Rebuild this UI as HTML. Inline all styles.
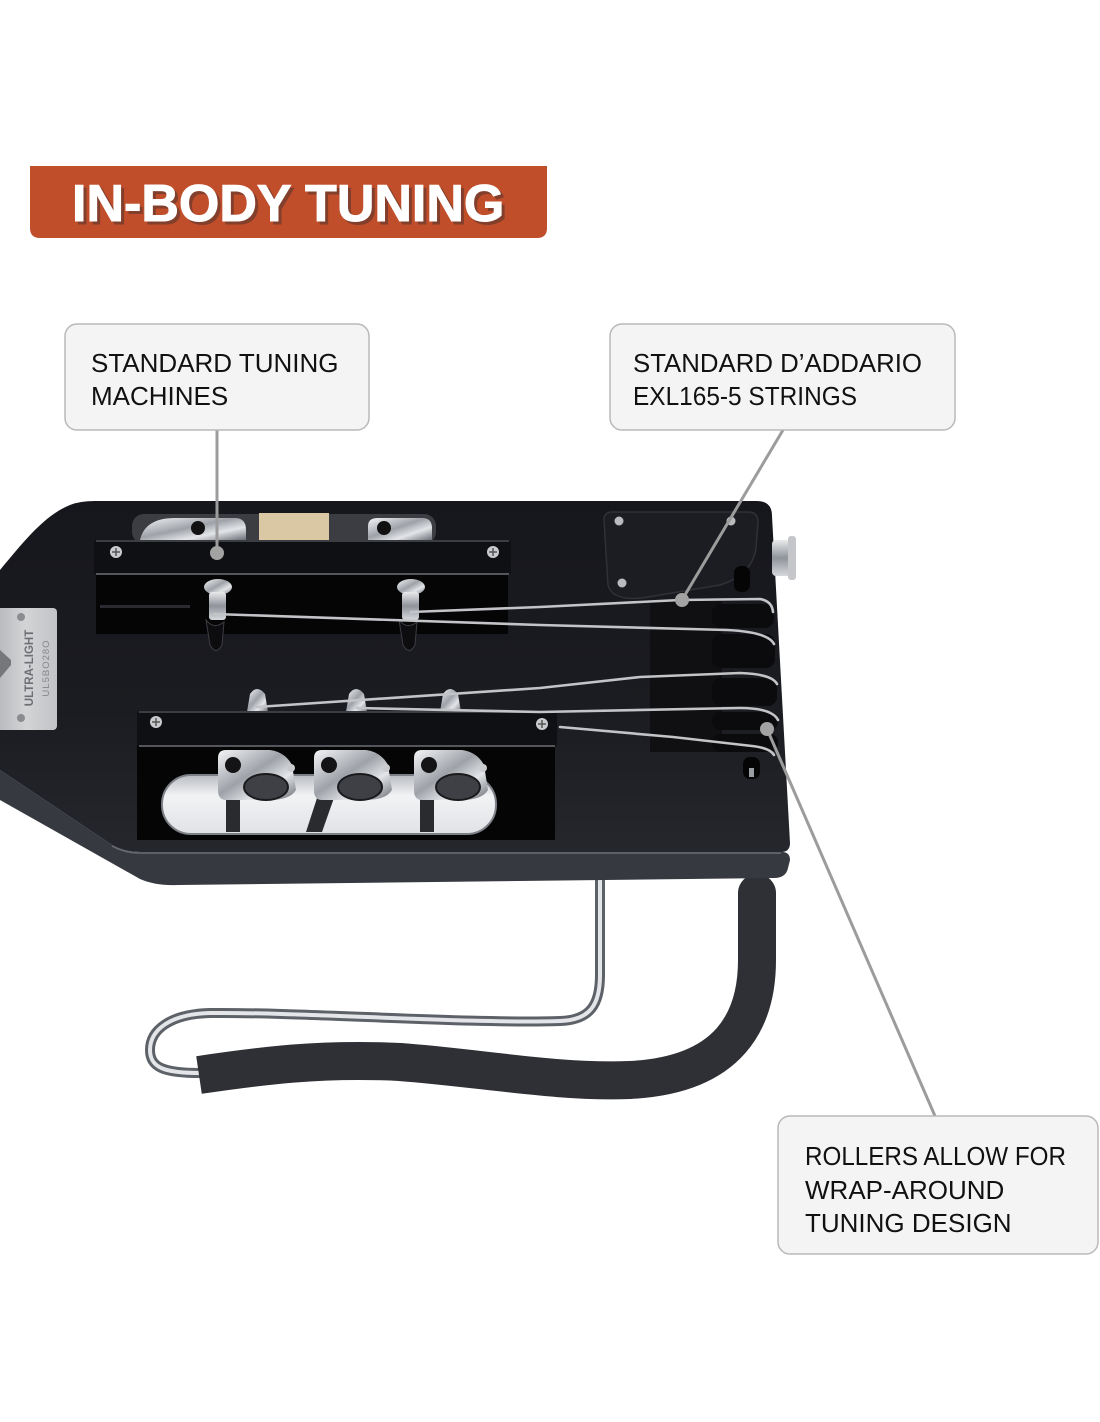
<!DOCTYPE html>
<html><head><meta charset="utf-8"><style>
html,body{margin:0;padding:0;background:#fff;}
body{width:1100px;height:1422px;overflow:hidden;position:relative;font-family:"Liberation Sans",sans-serif;}
svg{position:absolute;left:0;top:0;}
</style></head><body>
<svg width="1100" height="1422" viewBox="0 0 1100 1422" xmlns="http://www.w3.org/2000/svg">
<defs>
 <linearGradient id="bodyg" x1="0" y1="0" x2="0" y2="1">
  <stop offset="0" stop-color="#16171c"/>
  <stop offset="0.6" stop-color="#1b1c21"/>
  <stop offset="1" stop-color="#25272d"/>
 </linearGradient>
 <linearGradient id="chrome" x1="0" y1="0" x2="1" y2="1">
  <stop offset="0" stop-color="#f4f5f7"/>
  <stop offset="0.45" stop-color="#9ea2a8"/>
  <stop offset="0.7" stop-color="#e3e5e8"/>
  <stop offset="1" stop-color="#6a6e75"/>
 </linearGradient>
 <linearGradient id="chromeV" x1="0" y1="0" x2="0" y2="1">
  <stop offset="0" stop-color="#e9eaec"/>
  <stop offset="0.5" stop-color="#8f939a"/>
  <stop offset="1" stop-color="#d6d8db"/>
 </linearGradient>
 <linearGradient id="plateg" x1="0" y1="0" x2="1" y2="0">
  <stop offset="0" stop-color="#b3b5b8"/>
  <stop offset="0.5" stop-color="#d3d4d6"/>
  <stop offset="1" stop-color="#c2c3c6"/>
 </linearGradient>
 <linearGradient id="ovalg" x1="0" y1="0" x2="0" y2="1">
  <stop offset="0" stop-color="#b9bcc1"/>
  <stop offset="0.35" stop-color="#f2f3f5"/>
  <stop offset="1" stop-color="#e1e2e5"/>
 </linearGradient>
</defs>

<!-- Title banner -->
<path d="M30,166 L547,166 L547,228 Q547,238 537,238 L40,238 Q30,238 30,228 Z" fill="#c04e2b"/>
<text x="75" y="224" font-family="Liberation Sans, sans-serif" font-weight="bold" font-size="52" fill="#6e3a2c" opacity="0.75" stroke="#6e3a2c" stroke-width="1">IN-BODY TUNING</text>
<text x="72" y="221" font-family="Liberation Sans, sans-serif" font-weight="bold" font-size="52" fill="#ffffff" stroke="#ffffff" stroke-width="1">IN-BODY TUNING</text>

<!-- Foam rest & rod (behind body) -->
<path d="M600,866 L600,975 C600,1005 590,1020 560,1021 C470,1024 300,1012 210,1013 C170,1014 150,1030 150,1050 C150,1068 165,1073 200,1073" fill="none" stroke="#5d6168" stroke-width="10" stroke-linecap="round"/>
<path d="M600,866 L600,975 C600,1005 590,1020 560,1021 C470,1024 300,1012 210,1013 C170,1014 150,1030 150,1050 C150,1068 165,1073 200,1073" fill="none" stroke="#e3e5e9" stroke-width="4" stroke-linecap="round"/>
<path d="M757,893 L757,960 C757,1020 730,1075 630,1080 C560,1083 480,1068 400,1062 C320,1058 260,1066 199,1075" fill="none" stroke="#2e3035" stroke-width="38"/>
<circle cx="757" cy="893" r="19" fill="#2e3035"/>
<rect x="595" y="852" width="10" height="20" fill="#8a8e95"/>
<rect x="750" y="855" width="10" height="22" fill="#8a8e95"/>

<!-- Body side band -->
<path d="M0,770 L112,845 Q125,852 140,852 L782,852 Q790,852 790,860 L788,868 Q786,878 774,878 L178,885 Q156,886 140,879 L0,800 Z" fill="#363940"/>
<!-- Body face -->
<path d="M0,570 C25,540 45,515 70,505 Q80,501 95,501 L757,501 Q772,501 772,516 L790,843 Q790,852 781,852 L140,852 Q125,852 112,845 L0,770 Z" fill="url(#bodyg)"/>
<path d="M112,846 Q125,853 140,853 L781,853" fill="none" stroke="#6a6d74" stroke-width="1.5"/>

<!-- Label plate -->
<rect x="-6" y="608" width="63" height="122" rx="4" fill="url(#plateg)"/>
<circle cx="21" cy="617" r="4" fill="#8a8c90"/><circle cx="21" cy="718" r="4" fill="#8a8c90"/>
<path d="M0,650 L11,660 L11,665 L0,678 Z" fill="#75777b"/>
<text transform="translate(33,668) rotate(-90)" text-anchor="middle" font-family="Liberation Sans, sans-serif" font-weight="bold" font-size="11.5" fill="#6d6f73">ULTRA-LIGHT</text>
<text transform="translate(49,668) rotate(-90)" text-anchor="middle" font-family="Liberation Sans, sans-serif" font-size="9.5" fill="#85878b" letter-spacing="1">UL5BO28O</text>

<!-- Upper opening above plate -->
<rect x="132" y="514" width="304" height="30" rx="12" fill="#3b3d42"/>
<path d="M140,540 Q145,518 175,518 L235,518 Q246,518 246,530 L246,540 Z" fill="url(#chrome)"/>
<circle cx="198" cy="528" r="7" fill="#111"/>
<rect x="259" y="513" width="70" height="27" fill="#d9c8a3"/>
<path d="M368,540 L368,526 Q368,518 378,518 L422,518 Q432,518 432,528 L432,540 Z" fill="url(#chrome)"/>
<circle cx="384" cy="528" r="7" fill="#111"/>

<!-- Upper cavity -->
<rect x="96" y="572" width="412" height="62" fill="#050506"/>
<rect x="100" y="605" width="90" height="3" fill="#2a2b30"/>
<!-- Plate 1 -->
<rect x="94" y="540" width="417" height="35" rx="3" fill="#0f1013"/>
<line x1="96" y1="541" x2="509" y2="541" stroke="#4a4c52" stroke-width="1.5"/>
<line x1="96" y1="574" x2="509" y2="574" stroke="#6b6e75" stroke-width="1.5"/>
<circle cx="116" cy="552" r="6" fill="#c9cbce"/><path d="M112,552 h8 M116,548 v8" stroke="#555" stroke-width="1.5"/>
<circle cx="493" cy="552" r="6" fill="#c9cbce"/><path d="M489,552 h8 M493,548 v8" stroke="#555" stroke-width="1.5"/>

<!-- Upper pegs -->
<g>
 <ellipse cx="218" cy="587" rx="14" ry="8" fill="url(#chrome)"/>
 <rect x="209" y="592" width="17" height="28" rx="3" fill="url(#chromeV)"/>
 <path d="M206,620 Q214,630 224,622 L222,645 Q216,656 210,645 Z" fill="#0d0d0f" stroke="#3c3e44"/>
 <ellipse cx="411" cy="587" rx="14" ry="8" fill="url(#chrome)"/>
 <rect x="402" y="592" width="17" height="28" rx="3" fill="url(#chromeV)"/>
 <path d="M399,620 Q407,630 417,622 L415,645 Q409,656 403,645 Z" fill="#0d0d0f" stroke="#3c3e44"/>
</g>

<!-- Lower cavity -->
<rect x="137" y="745" width="418" height="95" fill="#050506"/>
<rect x="162" y="775" width="334" height="59" rx="29" fill="url(#ovalg)" stroke="#7d8087" stroke-width="2"/>
<rect x="226" y="790" width="14" height="42" fill="#2a2b2f"/>
<path d="M318,795 L335,795 L322,832 L306,832 Z" fill="#2a2b2f"/>
<rect x="420" y="790" width="14" height="42" fill="#2a2b2f"/>
<g>
 <path d="M218,758 Q218,750 226,750 L270,750 Q285,752 292,765 L296,790 Q290,800 270,800 L226,800 Q218,800 218,790 Z" fill="url(#chrome)"/>
 <circle cx="233" cy="765" r="8" fill="#141416"/>
 <ellipse cx="266" cy="787" rx="22" ry="13" fill="#3e4046" stroke="#1a1a1c" stroke-width="2"/>
 <circle cx="291" cy="768" r="4" fill="#c9cbce"/>
 <path d="M314,758 Q314,750 322,750 L366,750 Q381,752 388,765 L392,790 Q386,800 366,800 L322,800 Q314,800 314,790 Z" fill="url(#chrome)"/>
 <circle cx="329" cy="765" r="8" fill="#141416"/>
 <ellipse cx="360" cy="787" rx="22" ry="13" fill="#3e4046" stroke="#1a1a1c" stroke-width="2"/>
 <circle cx="386" cy="768" r="4" fill="#c9cbce"/>
 <path d="M414,758 Q414,750 422,750 L462,750 Q477,752 484,765 L488,790 Q482,800 462,800 L422,800 Q414,800 414,790 Z" fill="url(#chrome)"/>
 <circle cx="429" cy="765" r="8" fill="#141416"/>
 <ellipse cx="458" cy="787" rx="22" ry="13" fill="#3e4046" stroke="#1a1a1c" stroke-width="2"/>
 <circle cx="483" cy="768" r="4" fill="#c9cbce"/>
</g>

<!-- small pegs above lower plate -->
<g fill="url(#chrome)">
 <path d="M247,712 L250,694 Q257,684 265,694 L268,712 Z"/>
 <path d="M346,712 L349,694 Q356,684 364,694 L367,712 Z"/>
 <path d="M440,712 L443,694 Q450,684 458,694 L461,712 Z"/>
</g>

<!-- Plate 2 -->
<rect x="137" y="711" width="420" height="36" rx="3" fill="#0f1013"/>
<line x1="139" y1="712" x2="555" y2="712" stroke="#4a4c52" stroke-width="1.5"/>
<line x1="139" y1="746" x2="555" y2="746" stroke="#6b6e75" stroke-width="1.5"/>
<circle cx="156" cy="722" r="6" fill="#c9cbce"/><path d="M152,722 h8 M156,718 v8" stroke="#555" stroke-width="1.5"/>
<circle cx="542" cy="724" r="6" fill="#c9cbce"/><path d="M538,724 h8 M542,720 v8" stroke="#555" stroke-width="1.5"/>

<!-- Control plate right -->
<path d="M612,512 L748,512 Q758,512 758,522 L756,548 Q752,575 720,585 L642,598 Q612,601 608,585 L604,520 Q604,512 612,512 Z" fill="#1c1d22" stroke="#2f3137" stroke-width="1.5"/>
<circle cx="619" cy="521" r="4.5" fill="#b9bbbe"/>
<circle cx="731" cy="521" r="4.5" fill="#b9bbbe"/>
<circle cx="622" cy="583" r="4.5" fill="#b9bbbe"/>
<rect x="772" y="540" width="24" height="36" rx="4" fill="url(#chromeV)"/>
<rect x="788" y="536" width="8" height="44" rx="3" fill="#c4c6ca"/>
<rect x="734" y="566" width="16" height="26" rx="7" fill="#050506"/>
<rect x="743" y="757" width="17" height="22" rx="7" fill="#050506"/>
<rect x="749" y="768" width="5" height="9" fill="#9a9da2"/>

<!-- velcro -->
<rect x="650" y="600" width="72" height="152" fill="#101012"/>
<g fill="#0b0b0d">
 <rect x="712" y="604" width="62" height="24" rx="9"/>
 <rect x="712" y="634" width="63" height="34" rx="9"/>
 <rect x="712" y="678" width="65" height="28" rx="9"/>
 <rect x="712" y="712" width="66" height="18" rx="8"/>
 <rect x="712" y="734" width="66" height="18" rx="8"/>
</g>

<!-- strings -->
<g fill="none" stroke="#c3c4c7" stroke-width="2.6" stroke-linecap="round">
 <path d="M411,612 L540,607 L680,600 L760,599 Q772,601 773,612"/>
 <path d="M214,614 L540,625 L727,630 Q768,632 774,644"/>
 <path d="M257,707 L540,688 L640,677 L740,673 Q772,674 777,684"/>
 <path d="M357,708 L540,712 L740,708 Q772,708 778,720"/>
 <path d="M560,727 L673,737 L752,746 Q770,748 774,755"/>
</g>

<!-- connectors -->
<g stroke="#9c9c9c" stroke-width="3" fill="none">
 <line x1="217" y1="430" x2="217" y2="553"/>
 <line x1="783" y1="430" x2="682" y2="600"/>
 <line x1="767" y1="729" x2="935" y2="1116"/>
</g>
<circle cx="217" cy="553" r="7" fill="#a3a3a3"/>
<circle cx="682" cy="600" r="7" fill="#a3a3a3"/>
<circle cx="767" cy="729" r="7" fill="#a3a3a3"/>

<!-- Callout boxes -->
<rect x="65" y="324" width="304" height="106" rx="12" fill="#f4f4f4" stroke="#b9b9b9" stroke-width="1.5"/>
<text font-family="Liberation Sans, sans-serif" font-size="26" fill="#111">
 <tspan x="91" y="372">STANDARD TUNING</tspan>
 <tspan x="91" y="405">MACHINES</tspan>
</text>
<rect x="610" y="324" width="345" height="106" rx="12" fill="#f4f4f4" stroke="#b9b9b9" stroke-width="1.5"/>
<text x="633" y="372" font-family="Liberation Sans, sans-serif" font-size="26" fill="#111" textLength="289" lengthAdjust="spacingAndGlyphs">STANDARD D’ADDARIO</text>
<text x="633" y="405" font-family="Liberation Sans, sans-serif" font-size="26" fill="#111" textLength="224" lengthAdjust="spacingAndGlyphs">EXL165-5 STRINGS</text>
<rect x="778" y="1116" width="320" height="138" rx="12" fill="#f4f4f4" stroke="#b9b9b9" stroke-width="1.5"/>
<text x="805" y="1165" font-family="Liberation Sans, sans-serif" font-size="26" fill="#111" textLength="261" lengthAdjust="spacingAndGlyphs">ROLLERS ALLOW FOR</text>
<text x="805" y="1199" font-family="Liberation Sans, sans-serif" font-size="26" fill="#111">WRAP-AROUND</text>
<text x="805" y="1232" font-family="Liberation Sans, sans-serif" font-size="26" fill="#111">TUNING DESIGN</text>
</svg>
</body></html>
